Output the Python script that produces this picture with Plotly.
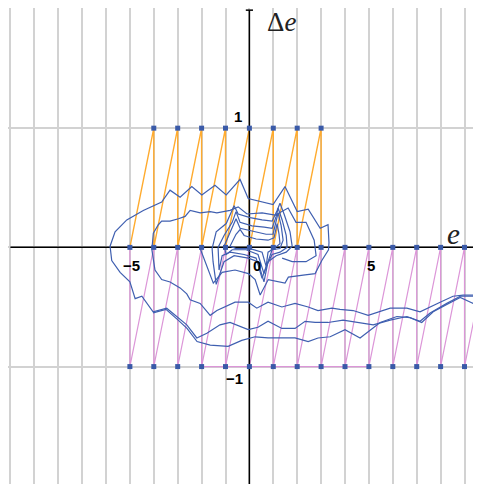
import plotly.graph_objects as go

# ---------------- data ----------------
# orange zigzag (upper band)
orange_e = [-5, -4, -4, -3, -3, -2, -2, -1, -1, 0, 0, 1, 1, 2, 2, 3, 3]
orange_de = [0, 1, 0, 1, 0, 1, 0, 1, 0, 1, 0, 1, 0, 1, 0, 1, 0]

# magenta zigzag (lower band)
magenta_e = [-5, -5, -4, -4, -3, -3, -2, -2, -1, -1, 0, 0, 1, 1, 2, 2, 3, 3,
             4, 4, 5, 5, 6, 6, 7, 7, 8, 8, 9, 9, 10]
magenta_de = [0, -1, 0, -1, 0, -1, 0, -1, 0, -1, 0, -1, 0, -1, 0, -1, 0, -1,
              0, -1, 0, -1, 0, -1, 0, -1, 0, -1, 0, -1, 0]
magenta_seg_e = [-2, 5]
magenta_seg_de = [-1, -1]

# node markers
nodes_e = [-5, -4, -3, -2, -1, 0, 1, 2, 3,
           -4, -3, -2, -1, 0, 1, 2, 3,
           4, 5, 6, 7, 8, 9,
           -5, -4, -3, -2, -1, 0, 1, 2, 3, 4, 5, 6, 7, 8, 9]
nodes_de = [0, 0, 0, 0, 0, 0, 0, 0, 0,
            1, 1, 1, 1, 1, 1, 1, 1,
            0, 0, 0, 0, 0, 0,
            -1, -1, -1, -1, -1, -1, -1, -1, -1, -1, -1, -1, -1, -1, -1]

# trajectories
trajA_e = [-2.06, -1.78, -1.51, -1.14, -0.60, -0.04, 0.24, 0.45, 0.79, 1.49, 1.63, 2.33, 2.75,
           3.03, 3.31, 3.33, 3.29, 2.96, 2.46, 2.00, 1.49, 0.99, -0.05, -0.39, -0.97, -1.44,
           -1.99, -2.41, -2.90, -3.32, -3.67, -4.44, -5.13, -5.62, -5.83, -5.76, -5.41, -5.00,
           -4.78, -4.50, -4.03, -3.46, -2.98, -2.62, -2.20, -1.78, -1.23, -0.81, -0.05, 0.36,
           0.78, 1.36, 1.91, 2.33, 2.75, 3.29, 3.92, 4.49, 5.18, 5.89, 6.59, 7.14, 7.56, 8.26,
           8.82, 9.36, 10.07]
trajA_de = [-0.01, -0.16, -0.30, -0.21, -0.19, -0.22, -0.27, -0.40, -0.27, -0.30, -0.25, -0.23, -0.22,
            -0.11, -0.02, 0.04, 0.19, 0.16, 0.32, 0.30, 0.51, 0.36, 0.41, 0.57, 0.44, 0.52,
            0.44, 0.51, 0.42, 0.48, 0.38, 0.31, 0.23, 0.13, 0.01, -0.11, -0.21, -0.29,
            -0.43, -0.41, -0.54, -0.51, -0.59, -0.65, -0.76, -0.72, -0.65, -0.63, -0.69, -0.67,
            -0.62, -0.68, -0.68, -0.62, -0.63, -0.63, -0.61, -0.63, -0.65, -0.61, -0.58, -0.62, -0.55, -0.47,
            -0.41, -0.41, -0.31]

trajB_e = [10.07, 9.66, 9.36, 8.94, 8.52, 7.98, 7.56, 7.14, 6.59, 5.89, 4.97, 4.34, 3.79,
           3.45, 2.87, 2.46, 1.91, 1.36, 0.78, 0.31, -0.05, -0.60, -1.36,
           -1.64, -2.06, -2.48, -2.62, -2.90, -3.32, -3.67, -3.95, -4.08, -4.02, -3.81, -3.67,
           -3.32, -2.97, -2.69, -2.48, -2.06, -1.64, -1.36, -0.81,
           -0.47, -0.10, 0.53, 1.08, 1.62, 1.95, 2.37, 2.71, 2.79, 2.37, 1.79, 1.37]
trajB_de = [-0.30, -0.36, -0.40, -0.40, -0.41, -0.46, -0.50, -0.54, -0.51, -0.51, -0.57, -0.53, -0.52,
            -0.51, -0.53, -0.50, -0.47, -0.50, -0.46, -0.51, -0.46, -0.46, -0.53,
            -0.57, -0.47, -0.44, -0.39, -0.34, -0.29, -0.27, -0.19, -0.02, 0.12, 0.19, 0.22,
            0.22, 0.24, 0.26, 0.31, 0.29, 0.30, 0.29, 0.31,
            0.34, 0.28, 0.29, 0.27, 0.33, 0.21, 0.21, 0.06, -0.07, -0.12, -0.12, -0.09]

trajC_e = [-4.03, -3.49, -2.98, -2.61, -2.19, -1.64, -0.89, -0.32, 0.24, 0.78, 1.36, 1.91, 2.46,
           2.87, 3.38, 4.00, 4.63, 5.47, 6.17, 6.72, 7.21, 7.69, 8.26, 8.82, 9.36, 9.66, 10.07]
trajC_de = [-0.55, -0.52, -0.61, -0.68, -0.79, -0.82, -0.83, -0.78, -0.75, -0.76, -0.76, -0.76, -0.79,
            -0.76, -0.75, -0.69, -0.76, -0.63, -0.58, -0.59, -0.63, -0.54, -0.48, -0.42, -0.47, -0.36, -0.29]

loop1_e = [-1.56, -1.39, -0.97, -0.64, -0.47, 0.03, 0.53, 0.95, 1.16, 1.28, 1.45, 1.70, 1.79,
           1.54, 1.12, 0.78, 0.61, 0.36, -0.05, -0.64, -1.06, -1.39, -1.52, -1.56]
loop1_de = [-0.01, 0.13, 0.20, 0.35, 0.28, 0.25, 0.23, 0.22, 0.31, 0.37, 0.28, 0.13, 0.01,
            -0.04, -0.07, -0.12, -0.29, -0.12, -0.09, -0.07, -0.12, -0.31, -0.12, -0.01]
loop2_e = [-1.31, -1.06, -0.72, -0.56, -0.39, 0.11, 0.62, 0.95, 1.12, 1.20, 1.37, 1.54, 1.58,
           1.28, 0.95, 0.70, 0.53, 0.28, -0.22, -0.81, -1.14, -1.27, -1.31]
loop2_de = [0.00, 0.10, 0.21, 0.30, 0.21, 0.18, 0.17, 0.16, 0.26, 0.33, 0.23, 0.10, 0.00,
            -0.04, -0.06, -0.16, -0.26, -0.09, -0.06, -0.04, -0.07, -0.19, 0.00]
loop3_e = [-1.06, -0.81, -0.56, -0.39, 0.20, 0.70, 0.99, 1.12, 1.20, 1.33, 1.41, 1.28, 0.95,
           0.78, 0.61, 0.36, -0.14, -0.72, -0.97, -1.06]
loop3_de = [0.01, 0.13, 0.24, 0.16, 0.13, 0.11, 0.11, 0.21, 0.29, 0.18, 0.06, -0.01, -0.02,
            -0.12, -0.22, -0.06, -0.02, -0.02, -0.06, 0.01]
loop4_e = [-0.81, -0.56, -0.39, -0.22, 0.28, 0.78, 1.03, 1.16, 1.24, 1.28, 1.03, 0.78, 0.70,
           0.53, 0.03, -0.56, -0.81]
loop4_de = [0.01, 0.11, 0.15, 0.10, 0.07, 0.06, 0.08, 0.20, 0.11, 0.03, -0.01, -0.04, -0.16,
            -0.04, -0.01, -0.01, 0.01]

trajectories = [(trajA_e, trajA_de), (trajB_e, trajB_de), (trajC_e, trajC_de),
                (loop1_e, loop1_de), (loop2_e, loop2_de), (loop3_e, loop3_de), (loop4_e, loop4_de)]

tick_text = ["1", "\u22121", "\u22125", "0", "5"]
tick_e = [-0.47, -0.62, -4.92, 0.31, 5.08]
tick_de = [1.10, -1.10, -0.15, -0.15, -0.15]

# ---------------- figure ----------------
ORANGE = "#ffab2e"
MAGENTA = "#dc96d8"
BLUE = "#3f5fb0"

fig = go.Figure()

fig.add_trace(go.Scatter(x=orange_e, y=orange_de, mode="lines",
                         line=dict(color=ORANGE, width=1.4), hoverinfo="skip"))
fig.add_trace(go.Scatter(x=magenta_e, y=magenta_de, mode="lines",
                         line=dict(color=MAGENTA, width=1.2), hoverinfo="skip"))
fig.add_trace(go.Scatter(x=magenta_seg_e, y=magenta_seg_de, mode="lines",
                         line=dict(color=MAGENTA, width=1.4), hoverinfo="skip"))

# axes (drawn as data lines through the axis scales)
axis_x_e = [-10, 10.5]
axis_x_de = [0, 0]
axis_y_e = [0, 0, None, -0.15, 0.15]
axis_y_de = [-2.5, 1.99, None, 1.99, 1.99]
fig.add_trace(go.Scatter(x=axis_x_e, y=axis_x_de, mode="lines",
                         line=dict(color="black", width=1.5), hoverinfo="skip"))
fig.add_trace(go.Scatter(x=axis_y_e, y=axis_y_de, mode="lines",
                         line=dict(color="black", width=1.5), hoverinfo="skip"))

for te, td in trajectories:
    fig.add_trace(go.Scatter(x=te, y=td, mode="lines",
                             line=dict(color=BLUE, width=1.2), hoverinfo="skip"))

fig.add_trace(go.Scatter(x=nodes_e, y=nodes_de, mode="markers",
                         marker=dict(symbol="square", size=5, color="#3a5aa8"),
                         hoverinfo="skip"))

for t, xe, yd in zip(tick_text, tick_e, tick_de):
    fig.add_annotation(x=xe, y=yd, text="<b>" + t + "</b>", showarrow=False,
                       font=dict(family="Liberation Sans, Arial", size=15, color="black"))

fig.add_annotation(x=1.33, y=1.89, text="\u0394<i>e</i>", showarrow=False,
                   font=dict(family="Liberation Serif, Times New Roman", size=27, color="#222"))
fig.add_annotation(x=8.56, y=0.11, text="<i>e</i>", showarrow=False,
                   font=dict(family="Liberation Serif, Times New Roman", size=29, color="#222"))

fig.update_layout(
    width=473, height=476,
    margin=dict(l=0, r=0, t=0, b=0),
    paper_bgcolor="white", plot_bgcolor="white",
    showlegend=False,
    xaxis=dict(range=[-10.10, 9.69], dtick=1, tick0=0, showgrid=True,
               gridcolor="#d2d2d2", gridwidth=1.6, zeroline=False,
               showticklabels=False, ticks="", fixedrange=True),
    yaxis=dict(range=[-1.985, 2.008], dtick=1, tick0=0, showgrid=True,
               gridcolor="#d2d2d2", gridwidth=1.6, zeroline=False,
               showticklabels=False, ticks="", fixedrange=True),
)

fig.write_html("out.html")
